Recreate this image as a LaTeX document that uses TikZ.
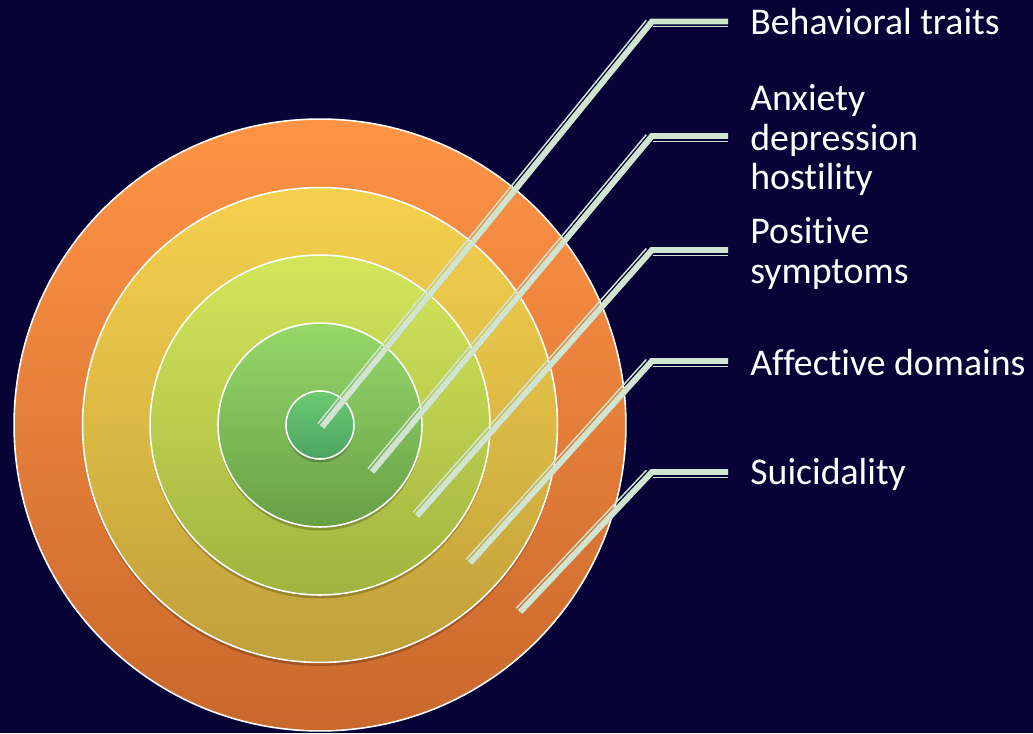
\documentclass[tikz,border=0pt]{standalone}
\usepackage{fontspec}
\setmainfont{Carlito}[Ligatures=NoCommon]
\usepackage{tikz}
\usetikzlibrary{calc,shadows}
\definecolor{navy}{HTML}{070337}
\definecolor{leadgreen}{HTML}{D1E4CF}
\definecolor{orangetop}{HTML}{FF9446}
\definecolor{orangebot}{HTML}{C9682C}
\definecolor{yellowtop}{HTML}{F6D14E}
\definecolor{yellowbot}{HTML}{BFA03A}
\definecolor{limetop}{HTML}{D3E65B}
\definecolor{limebot}{HTML}{A0B33F}
\definecolor{greentop}{HTML}{96D86A}
\definecolor{greenbot}{HTML}{67A046}
\definecolor{coretop}{HTML}{6CCA72}
\definecolor{corebot}{HTML}{4BA461}

\begin{document}
\begin{tikzpicture}[x=0.02cm,y=-0.02cm,
    ring/.style={circle,draw=white,line width=0.9pt,inner sep=0pt,outer sep=0pt},
    ringshadow/.style={drop shadow={shadow xshift=0pt,shadow yshift=-2pt,opacity=.22,fill=black}},
    leader/.style={leadgreen,line width=3.4pt,line join=miter},
    leadershadow/.style={black,opacity=.3,line width=3.4pt,line join=miter,shift={(1.2pt,-1.8pt)}},
    leaderthin/.style={leadgreen,line width=0.85pt},
    itemtext/.style={anchor=base west,inner sep=0pt,align=left,text=white,
      font=\fontsize{21.5}{22.7}\selectfont}]
  \useasboundingbox (0,0) rectangle (1033,733);
  \fill[navy] (0,0) rectangle (1033,733);

  % Rings, outermost first
  \node[ring,minimum size=12.24cm,top color=orangetop,bottom color=orangebot] (rSui) at (320,425) {};
  \node[ring,ringshadow,minimum size=9.5cm,top color=yellowtop,bottom color=yellowbot] (rAff) at (320,425) {};
  \node[ring,ringshadow,minimum size=6.8cm,top color=limetop,bottom color=limebot] (rPos) at (320,425) {};
  \node[ring,ringshadow,minimum size=4.08cm,top color=greentop,bottom color=greenbot] (rAnx) at (320,425) {};
  \node[ring,ringshadow,minimum size=1.36cm,top color=coretop,bottom color=corebot] (rBeh) at (320,425) {};

  % Labels (base is the last line)
  \node[itemtext] (lBeh) at (750,35) {Behavioral traits};
  \node[itemtext] (lAnx) at (750,190) {Anxiety\\depression\\hostility};
  \node[itemtext] (lPos) at (750,283) {Positive\\symptoms};
  \node[itemtext] (lAff) at (750,375) {Affective domains};
  \node[itemtext] (lSui) at (750,484) {Suicidality};

  % First leader
  \coordinate (tBeh) at (322,427);
  \coordinate (eBeh) at (652,21.5);
  \coordinate (oBeh) at (728,21.5);
  \draw[leadershadow] (tBeh) -- (eBeh) -- (oBeh);
  \draw[leader] (tBeh) -- (eBeh) -- (oBeh);
  \draw[leaderthin,shorten >=1.5pt] ($(tBeh)!0.105cm!90:(eBeh)$) -- ($(eBeh)!0.105cm!-90:(tBeh)$);
  \draw[leaderthin] ($(eBeh)+(1,5.25)$) -- ($(oBeh)+(0,5.25)$);
  % Second leader
  \coordinate (tAnx) at (372,472);
  \coordinate (eAnx) at (652,136);
  \coordinate (oAnx) at (728,136);
  \draw[leadershadow] (tAnx) -- (eAnx) -- (oAnx);
  \draw[leader] (tAnx) -- (eAnx) -- (oAnx);
  \draw[leaderthin,shorten >=1.5pt] ($(tAnx)!0.105cm!90:(eAnx)$) -- ($(eAnx)!0.105cm!-90:(tAnx)$);
  \draw[leaderthin] ($(eAnx)+(1,5.25)$) -- ($(oAnx)+(0,5.25)$);
  % Third leader
  \coordinate (tPos) at (417,516);
  \coordinate (ePos) at (652,250);
  \coordinate (oPos) at (728,250);
  \draw[leadershadow] (tPos) -- (ePos) -- (oPos);
  \draw[leader] (tPos) -- (ePos) -- (oPos);
  \draw[leaderthin,shorten >=1.5pt] ($(tPos)!0.105cm!90:(ePos)$) -- ($(ePos)!0.105cm!-90:(tPos)$);
  \draw[leaderthin] ($(ePos)+(1,5.25)$) -- ($(oPos)+(0,5.25)$);
  % Fourth leader
  \coordinate (tAff) at (470,563);
  \coordinate (eAff) at (652,361);
  \coordinate (oAff) at (728,361);
  \draw[leadershadow] (tAff) -- (eAff) -- (oAff);
  \draw[leader] (tAff) -- (eAff) -- (oAff);
  \draw[leaderthin,shorten >=1.5pt] ($(tAff)!0.105cm!90:(eAff)$) -- ($(eAff)!0.105cm!-90:(tAff)$);
  \draw[leaderthin] ($(eAff)+(1,5.25)$) -- ($(oAff)+(0,5.25)$);
  % Fifth leader
  \coordinate (tSui) at (520,612);
  \coordinate (eSui) at (652,472);
  \coordinate (oSui) at (728,472);
  \draw[leadershadow] (tSui) -- (eSui) -- (oSui);
  \draw[leader] (tSui) -- (eSui) -- (oSui);
  \draw[leaderthin,shorten >=1.5pt] ($(tSui)!0.105cm!90:(eSui)$) -- ($(eSui)!0.105cm!-90:(tSui)$);
  \draw[leaderthin] ($(eSui)+(1,5.25)$) -- ($(oSui)+(0,5.25)$);
\end{tikzpicture}
\end{document}
